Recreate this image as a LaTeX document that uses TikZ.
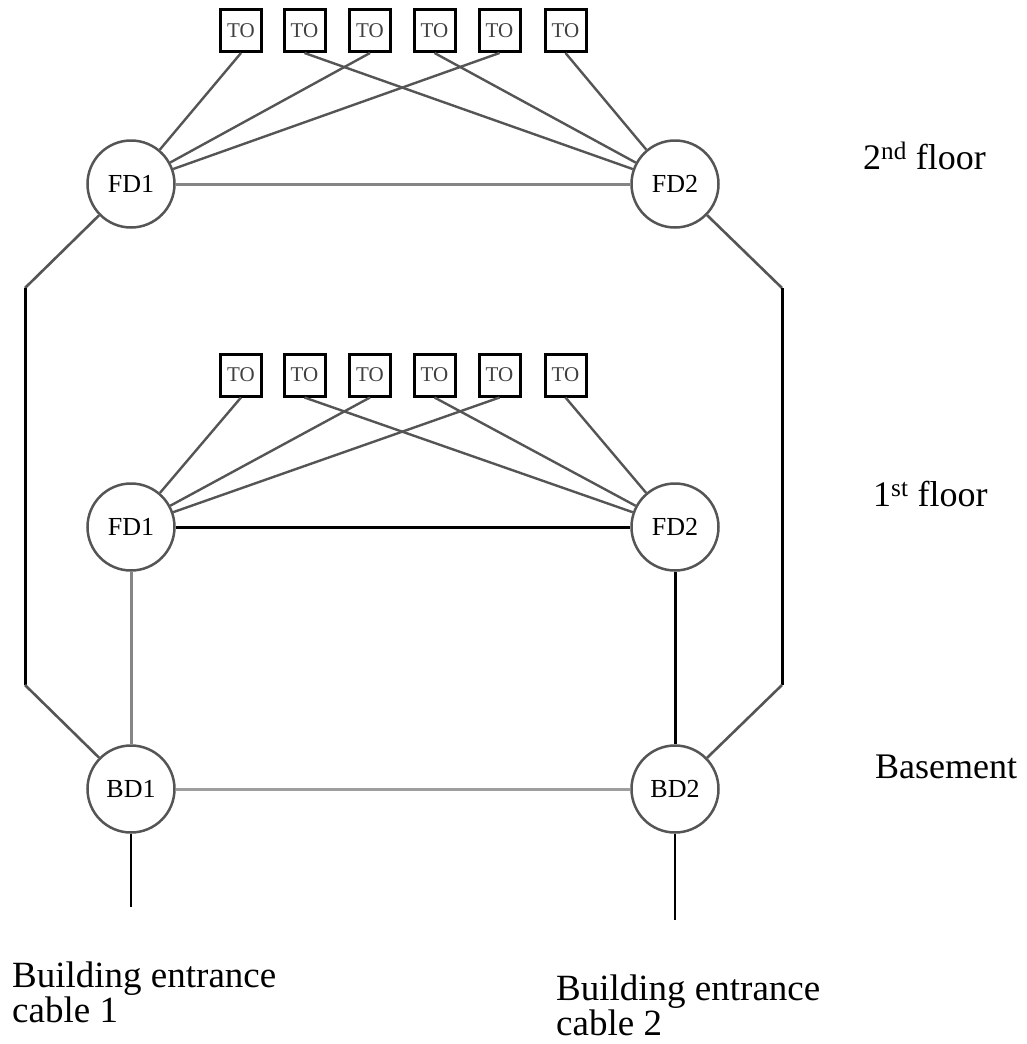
\documentclass[tikz,border=0pt]{standalone}
\usepackage{fontspec}
\setmainfont{Liberation Serif}
\definecolor{dg}{HTML}{555555}
\definecolor{mg}{HTML}{858585}
\definecolor{lg}{HTML}{9E9E9E}
\begin{document}
\begin{tikzpicture}[x=1pt,y=-1pt,
  dist/.style={circle,draw=dg,line width=2.5pt,minimum size=87pt,inner sep=0pt,fill=white,font=\fontsize{26}{26}\selectfont},
  tobox/.style={rectangle,draw=black,line width=3pt,minimum width=41pt,minimum height=42pt,inner sep=0pt,fill=white,font=\fontsize{21}{21}\selectfont,text=black!75},
  tol/.style={draw=dg,line width=2.4pt},
  diag/.style={draw=dg,line width=2.6pt},
  blk/.style={draw=black,line width=3pt},
  cab/.style={draw=black,line width=2.6pt},
  gl/.style={draw=lg,line width=3pt},
  ml/.style={draw=mg,line width=3pt},
  lbl/.style={font=\fontsize{36}{35}\selectfont,inner sep=0pt},
  elbl/.style={font=\fontsize{37}{35}\selectfont,inner sep=0pt,align=left}]
\useasboundingbox (0,0) rectangle (1026,1044);

% distributors
\node[dist] (FDa1) at (131,184) {FD1};
\node[dist] (FDa2) at (675,184) {FD2};
\node[dist] (FDb1) at (131,527) {FD1};
\node[dist] (FDb2) at (675,527) {FD2};
\node[dist] (BD1) at (131,789) {BD1};
\node[dist] (BD2) at (675,789) {BD2};

% telecommunication outlets
\foreach \i/\x in {1/241,2/304.5,3/370,4/434.5,5/499.5,6/565.5} {
  \node[tobox] (t\i) at (\x,30.5) {TO};
  \node[tobox] (s\i) at (\x,375) {TO};
}

% outlet cabling
\foreach \i in {1,3,5} {
  \draw[tol] (t\i.south) -- (FDa1);
  \draw[tol] (s\i.south) -- (FDb1);
}
\foreach \i in {2,4,6} {
  \draw[tol] (t\i.south) -- (FDa2);
  \draw[tol] (s\i.south) -- (FDb2);
}

% backbone
\draw[ml] (FDa1) -- (FDa2);
\draw[blk] (FDb1) -- (FDb2);
\draw[gl] (BD1) -- (BD2);
\draw[ml] (FDb1) -- (BD1);
\draw[blk] (FDb2) -- (BD2);

\coordinate (L1) at (25,288);
\coordinate (L2) at (25,685);
\coordinate (R1) at (782,288);
\coordinate (R2) at (782,685);
\draw[diag] (FDa1) -- (L1);
\draw[blk] (L1) -- (L2);
\draw[diag] (L2) -- (BD1);
\draw[diag] (FDa2) -- (R1);
\draw[blk] (R1) -- (R2);
\draw[diag] (R2) -- (BD2);

% entrance cables
\coordinate (E1) at (131,907);
\coordinate (E2) at (675,920);
\draw[cab] (BD1) -- (E1);
\draw[cab] (BD2) -- (E2);

% labels
\node[lbl,anchor=base west] (l2) at (863,169) {2\textsuperscript{nd} floor};
\node[lbl,anchor=base west] (l1) at (873,506) {1\textsuperscript{st} floor};
\node[lbl,anchor=base west] (lb) at (875,778) {Basement};
\node[elbl,anchor=north west] (e1) at (12,962) {Building entrance\\cable 1};
\node[elbl,anchor=north west] (e2) at (556,975) {Building entrance\\cable 2};
\end{tikzpicture}
\end{document}
